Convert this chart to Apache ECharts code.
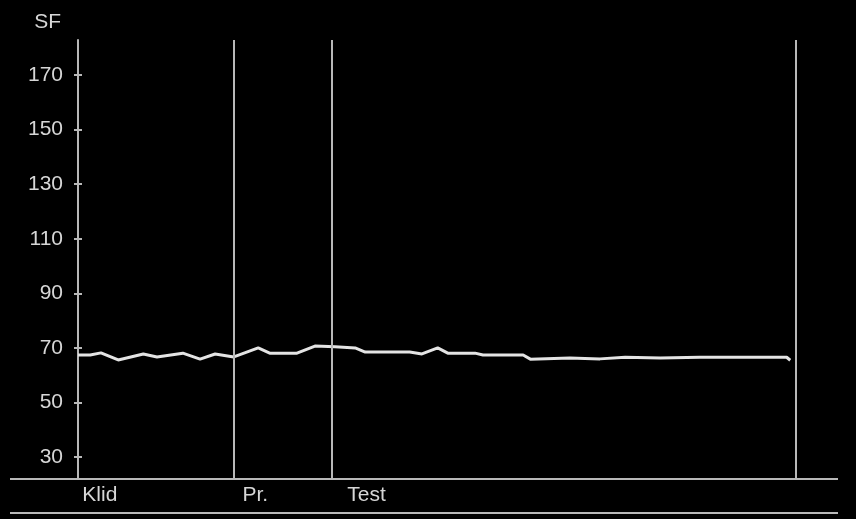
<!DOCTYPE html>
<html>
<head>
<meta charset="utf-8">
<script src="https://cdn.jsdelivr.net/npm/echarts@6/dist/echarts.min.js"></script>
<style>
html,body{margin:0;padding:0;background:#000;}
#c{width:856px;height:519px;}
</style>
</head>
<body>
<div id="c"></div>
<script>
// time (arbitrary units, 0..100) and SF values
var times = [0, 1.7, 3.2, 5.6, 9.1, 11.0, 14.6, 17.0, 19.1, 21.7, 25.1, 26.7, 30.5, 33.0, 35.8, 38.6, 40.0, 46.2, 47.9, 50.1, 51.5, 55.3, 56.4, 62.0, 63.0, 68.5, 72.7, 76.2, 81.1, 86.6, 98.7, 99.2];
var sfValues = [67.4, 67.4, 68.2, 65.6, 67.8, 66.7, 68.1, 65.9, 67.8, 66.7, 70.0, 68.1, 68.1, 70.7, 70.4, 70.0, 68.5, 68.5, 67.8, 70.0, 68.1, 68.1, 67.4, 67.4, 65.9, 66.3, 66.0, 66.6, 66.3, 66.6, 66.6, 65.5];
// phase boundaries and labels
var phaseEnds = [21.7, 35.4, 100];
var phaseNames = ['Klid', 'Pr.', 'Test'];
var phaseLabelPos = [0.6, 22.9, 37.5];
var yTicks = [30, 50, 70, 90, 110, 130, 150, 170];

var points = times.map(function (t, i) { return [t, sfValues[i]]; });
var gray = '#b8b8b8';
var txt = '#d6d6d6';
var font = 'Liberation Sans, Arial, sans-serif';

var chart = echarts.init(document.getElementById('c'));
chart.setOption({
  backgroundColor: '#000',
  animation: false,
  grid: { left: 78, right: 60, top: 40, bottom: 40 },
  xAxis: {
    type: 'value', min: 0, max: 100,
    axisLine: { show: false },
    axisTick: { show: false },
    splitLine: { show: false },
    axisLabel: {
      customValues: phaseLabelPos,
      formatter: function (v) {
        var i = phaseLabelPos.indexOf(v);
        return i >= 0 ? phaseNames[i] : '';
      },
      align: 'left', margin: 6,
      color: txt, fontSize: 21, fontFamily: font
    }
  },
  yAxis: [{
    type: 'value', min: 22, max: 182.8,
    name: 'SF', nameLocation: 'end', nameGap: 7,
    nameTextStyle: { color: txt, fontSize: 21, fontFamily: font, align: 'right', padding: [0, 17, 0, 0] },
    axisLine: { show: true, lineStyle: { color: gray, width: 2 } },
    axisTick: { show: true, customValues: yTicks, length: 4, lineStyle: { color: gray, width: 2 } },
    axisLabel: { customValues: yTicks, color: txt, fontSize: 21, fontFamily: font, margin: 15 },
    splitLine: { show: false }
  }, {
    type: 'value', min: 22, max: 182.8, position: 'left',
    axisLine: { show: false },
    axisTick: { show: true, inside: true, customValues: yTicks, length: 4, lineStyle: { color: gray, width: 2 } },
    axisLabel: { show: false },
    splitLine: { show: false }
  }],
  graphic: [
    { type: 'line', shape: { x1: 10, y1: 479, x2: 838, y2: 479 }, style: { stroke: gray, lineWidth: 2 } },
    { type: 'line', shape: { x1: 10, y1: 513, x2: 838, y2: 513 }, style: { stroke: gray, lineWidth: 2 } }
  ],
  series: [{
    type: 'line',
    data: points,
    showSymbol: false,
    lineStyle: { color: '#e4e4e4', width: 3 },
    markLine: {
      silent: true,
      symbol: 'none',
      label: { show: false },
      lineStyle: { color: gray, width: 2, type: 'solid' },
      data: phaseEnds.map(function (v) { return { xAxis: v }; })
    }
  }]
});
</script>
</body>
</html>
